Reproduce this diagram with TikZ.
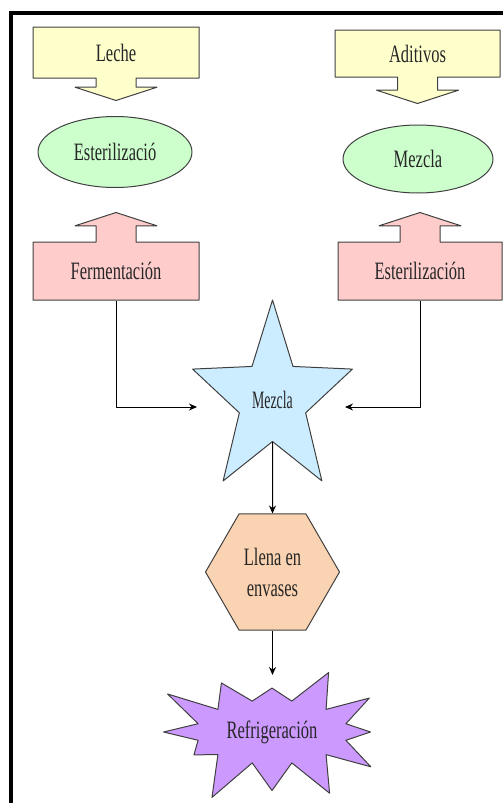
\documentclass[tikz,border=0pt]{standalone}
\usepackage{fontspec}
\setmainfont{Liberation Serif}[FakeStretch=0.66]
\usetikzlibrary{shapes.geometric,shapes.arrows,shapes.symbols,arrows.meta}
\definecolor{amarillo}{HTML}{FFFFCC}
\definecolor{verde}{HTML}{CCFFCC}
\definecolor{rosa}{HTML}{FFCCCC}
\definecolor{celeste}{HTML}{CCECFF}
\definecolor{durazno}{HTML}{FAD3B2}
\definecolor{lila}{HTML}{CC99FF}
\tikzset{
	caja/.style={arrow box, draw=black!75, line width=1pt, inner sep=0pt,
		arrow box shaft width=40pt, arrow box head extend=21pt, arrow box tip angle=144},
	elipse/.style={ellipse, draw=black!75, line width=1pt, fill=verde, inner sep=0pt},
	texto/.style={font=\fontsize{25}{31}\selectfont, text=black!85}
}
\begin{document}
\begin{tikzpicture}[x=1pt, y=-1pt, >={Stealth[length=8pt,width=7pt]}, texto, line join=round]
	\useasboundingbox (0,0) rectangle (503,803);
	% marco
	\draw[line width=4pt] (9,12.5)--(503,12.5);
	\draw[line width=4pt] (11,12.5)--(11,803);
	
	% columna izquierda
	\node[caja, fill=amarillo, minimum width=166pt, minimum height=51pt,
		arrow box arrows={south:22pt}] (leche) at (116,52.5) {Leche};
	\node[elipse, minimum width=154pt, minimum height=71pt] (ester) at (115,152) {Esterilizació};
	\node[caja, fill=rosa, minimum width=166pt, minimum height=58pt,
		arrow box arrows={north:29pt}] (ferm) at (116,271) {Fermentación};
	
	% columna derecha
	\node[caja, fill=amarillo, minimum width=165pt, minimum height=47pt,
		arrow box arrows={south:26pt}] (aditivos) at (417.5,53.5) {Aditivos};
	\node[elipse, minimum width=150pt, minimum height=68pt] (mezcla) at (418,159) {Mezcla};
	\node[caja, fill=rosa, minimum width=164pt, minimum height=58pt,
		arrow box arrows={north:29pt}] (ester2) at (420,271) {Esterilización};
	
	% centro
	\begin{scope}[shift={(272.5,400)}, xscale=0.84]
		\node[star, star points=5, star point ratio=2.41, minimum size=200pt, inner sep=0pt,
			draw=black!75, line width=1pt, fill=celeste, transform shape] (mix) at (0,0) {Mezcla};
	\end{scope}
	\node[regular polygon, regular polygon sides=6, minimum size=134pt, inner sep=0pt,
		draw=black!75, line width=1pt, fill=durazno, align=center] (envase) at (272.5,572)
		{Llena en\\envases};
	\node[starburst, starburst points=12, starburst point height=46pt, random starburst=23,
		minimum width=245pt, minimum height=156pt, inner sep=0pt,
		draw=black!75, line width=1pt, fill=lila] (refri) at (272,732) {Refrigeración};
	\coordinate (refri-in) at (272.5,675);
	
	% conectores
	\draw[->, line width=1pt] (ferm.south) |- ([shift={(-75.5,7)}]mix.center);
	\draw[->, line width=1pt] (ester2.south) |- ([shift={(72.5,7)}]mix.center);
	\draw[->, line width=1pt] (mix) -- (envase);
	\draw[->, line width=1pt] (envase) -- (refri-in);
\end{tikzpicture}
\end{document}
